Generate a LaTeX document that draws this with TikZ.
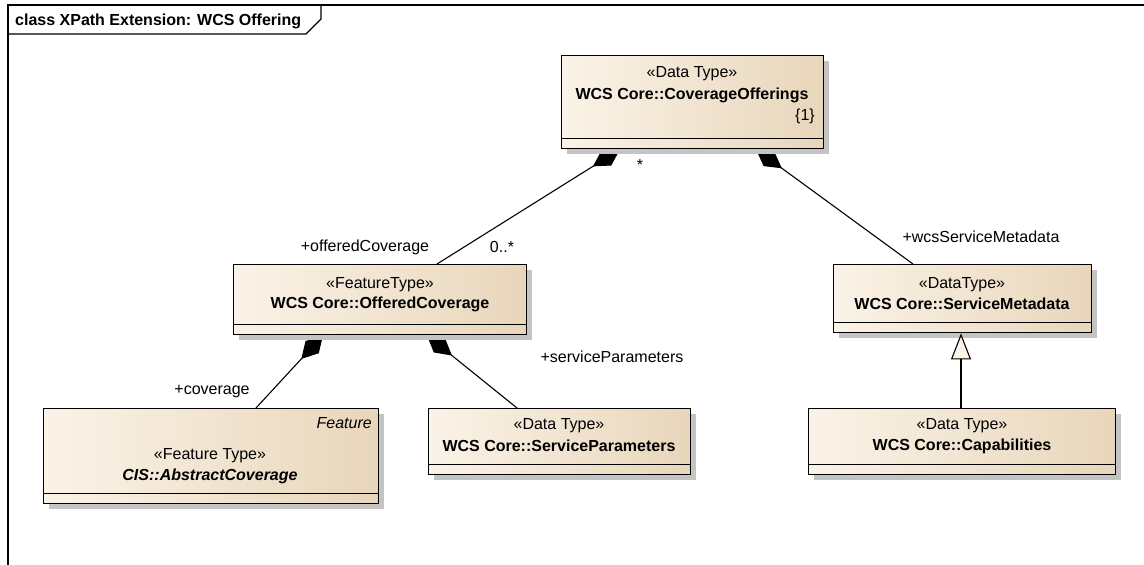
\documentclass[tikz,border=0pt]{standalone}
\usepackage{fontspec}
\setmainfont{Liberation Sans}
\usepackage{tikz}
\usetikzlibrary{arrows.meta, shadows, backgrounds}

\definecolor{umlLeft}{RGB}{251,243,232}
\definecolor{umlRight}{RGB}{232,214,186}
\definecolor{umlShadow}{RGB}{196,196,196}

\begin{document}
\begin{tikzpicture}[
    x=1pt, y=-1pt,
    font=\fontsize{16}{19}\selectfont,
    cls/.style={
        rectangle,
        anchor=north west,
        inner sep=0pt,
        draw=black,
        line width=1.4pt,
        left color=umlLeft,
        right color=umlRight,
        drop shadow={shadow xshift=5pt, shadow yshift=-5pt,
                     fill=umlShadow, opacity=1}
    },
    ster/.style={inner sep=0pt},
    cname/.style={inner sep=0pt, font=\fontsize{16}{19}\selectfont\bfseries},
    role/.style={inner sep=1pt},
    comp/.style={line width=1.4pt},
    assoc/.style={
        {Diamond[length=32pt, width=18pt]}-,
        line width=1.1pt
    },
    gen/.style={
        -{Triangle[open, length=26pt, width=20pt, fill=umlLeft]},
        line width=1.1pt
    }
]
\useasboundingbox (0,0) rectangle (1144,565);

% Frame
\draw[line width=1.2pt] (1144,5) -- (8,5) -- (8,565);
\draw[line width=1.2pt] (8,34) -- (306,34) -- (321,19) -- (321,5);
\node[font=\fontsize{16}{19}\selectfont\bfseries, anchor=west, inner sep=0pt]
    (title) at (15,21) {class XPath Extension: WCS Offering};

% Classes
\node[cls, minimum width=262pt, minimum height=93pt] (offerings) at (561,55) {};
\node[cls, minimum width=293pt, minimum height=70pt] (offered)   at (233,264) {};
\node[cls, minimum width=258pt, minimum height=68pt] (metadata)  at (833,264) {};
\node[cls, minimum width=335pt, minimum height=95pt] (abstract)  at (43,408) {};
\node[cls, minimum width=262pt, minimum height=66pt] (params)    at (428,408) {};
\node[cls, minimum width=307pt, minimum height=66pt] (capab)     at (808,408) {};

% Compartments
\foreach \c in {offerings, offered, metadata, abstract, params, capab}
    \draw[comp] ([yshift=11pt]\c.south west) -- ([yshift=11pt]\c.south east);

% Class texts
\node[ster]  (offeringsS) at (692,74)  {«Data Type»};
\node[cname] (offeringsN) at (692,95)  {WCS Core::CoverageOfferings};
\node[ster, anchor=east] (offeringsT) at (815,116) {\{1\}};

\node[ster]  (offeredS) at (380,285) {«FeatureType»};
\node[cname] (offeredN) at (380,304) {WCS Core::OfferedCoverage};

\node[ster]  (metadataS) at (962,285) {«DataType»};
\node[cname] (metadataN) at (962,304) {WCS Core::ServiceMetadata};

\node[ster, anchor=east, font=\fontsize{16}{19}\selectfont\itshape]
    (abstractT) at (372,423) {Feature};
\node[ster]  (abstractS) at (210,456) {«Feature Type»};
\node[cname, font=\fontsize{16}{19}\selectfont\bfseries\itshape]
    (abstractN) at (210,476) {CIS::AbstractCoverage};

\node[ster]  (paramsS) at (559,426) {«Data Type»};
\node[cname] (paramsN) at (559,446) {WCS Core::ServiceParameters};

\node[ster]  (capabS) at (962,426) {«Data Type»};
\node[cname] (capabN) at (962,446) {WCS Core::Capabilities};

% Connectors
\begin{pgfonlayer}{background}
\draw[assoc] ([xshift=59pt]offerings.south west) -- ([xshift=204pt]offered.north west);
\draw[assoc] ([xshift=195pt]offerings.south west) -- ([xshift=80pt]metadata.north west);
\draw[assoc] ([xshift=90pt]offered.south west) -- ([xshift=213pt]abstract.north west);
\draw[assoc] ([xshift=194pt]offered.south west) -- ([xshift=89pt]params.north west);
\end{pgfonlayer}
\draw[gen] ([xshift=153pt]capab.north west) -- ([xshift=128pt]metadata.south west);

% Role labels
\node[role] (mulA)     at (640,165) {*};
\node[role] (mulB)     at (502,247) {0..*};
\node[role] (roleOff)  at (365,247) {+offeredCoverage};
\node[role] (roleMeta) at (981,237) {+wcsServiceMetadata};
\node[role] (roleCov)  at (212,392) {+coverage};
\node[role] (rolePar)  at (612,357) {+serviceParameters};

\end{tikzpicture}
\end{document}
